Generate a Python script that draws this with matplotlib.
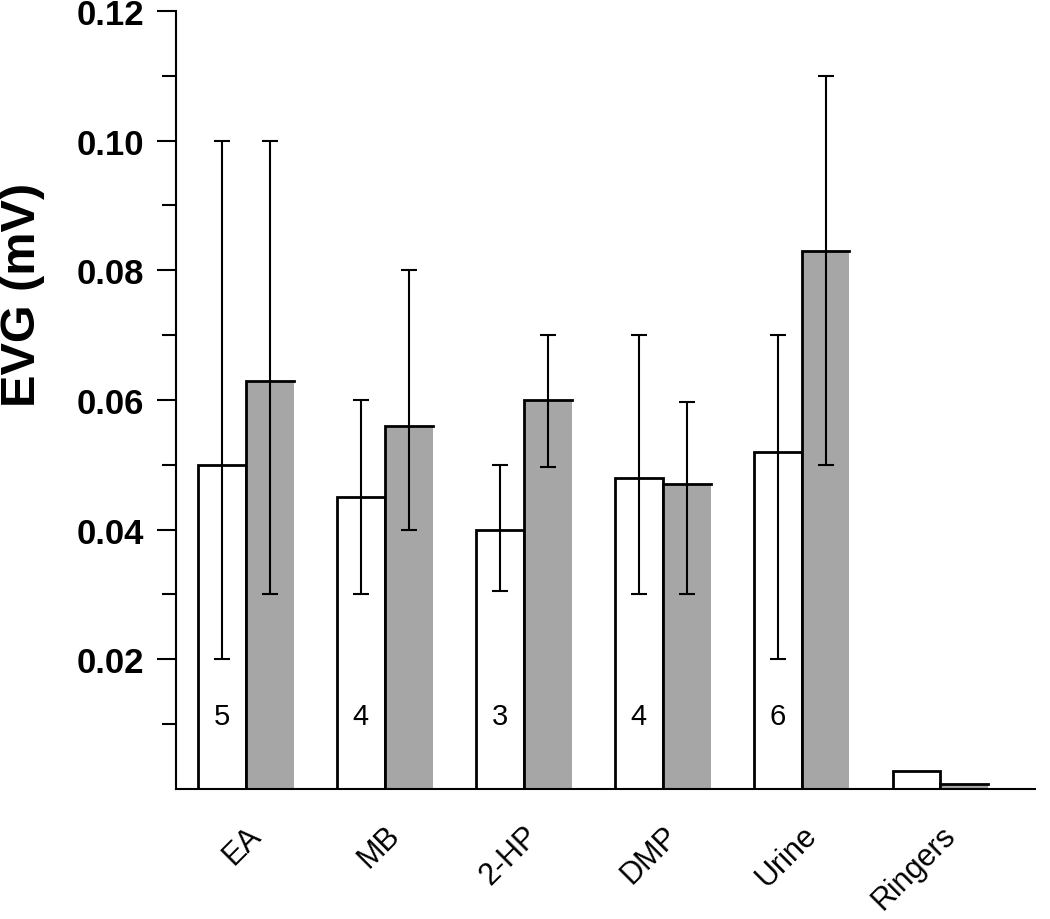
import numpy as np
import matplotlib
matplotlib.use("Agg")
import matplotlib.pyplot as plt

plt.rcParams['font.family'] = ['Liberation Sans', 'DejaVu Sans']

groups = ['EA', 'MB', '2-HP', 'DMP', 'Urine', 'Ringers']
n_counts = ['5', '4', '3', '4', '6', '']

white_vals = [0.050, 0.045, 0.040, 0.048, 0.052, 0.0027]
white_lo = [0.020, 0.030, 0.0305, 0.030, 0.020, np.nan]
white_hi = [0.100, 0.060, 0.050, 0.070, 0.070, np.nan]

gray_vals = [0.063, 0.056, 0.060, 0.047, 0.083, 0.0008]
gray_lo = [0.030, 0.040, 0.0497, 0.030, 0.050, np.nan]
gray_hi = [0.100, 0.080, 0.070, 0.0597, 0.110, np.nan]

x = np.arange(len(groups))
w = 0.345

fig = plt.figure(figsize=(10.5, 9.2), dpi=100)
ax = fig.add_axes([0.1676, 0.1413, 0.818, 0.8457])

wb = ax.bar(x - w / 2, white_vals, w, color='white', edgecolor='black', linewidth=2, zorder=2)
gb = ax.bar(x + w / 2, gray_vals, w, color='#a6a6a6', edgecolor='none', zorder=2)
# gray bars only have a left and top outline
for p in gb:
    x0, h, bw = p.get_x(), p.get_height(), p.get_width()
    ax.plot([x0, x0, x0 + bw], [0, h, h], color='black', lw=2, zorder=3,
            solid_joinstyle='miter')

def err(vals, lo, hi):
    v = np.array(vals)
    return [v - np.array(lo), np.array(hi) - v]

ax.errorbar(x - w / 2, white_vals, yerr=err(white_vals, white_lo, white_hi), fmt='none',
            ecolor='black', elinewidth=1.5, capsize=6, capthick=1.5, zorder=4)
ax.errorbar(x + w / 2, gray_vals, yerr=err(gray_vals, gray_lo, gray_hi), fmt='none',
            ecolor='black', elinewidth=1.5, capsize=6, capthick=1.5, zorder=4)

for xi, t in zip(x, n_counts):
    ax.text(xi - w / 2, 0.0113, t, ha='center', va='center', fontsize=21, zorder=5)

ax.set_xlim(-0.504, 5.68)
ax.set_ylim(0, 0.12)
ax.set_yticks([0.02, 0.04, 0.06, 0.08, 0.10, 0.12])
ax.set_yticklabels(['0.02', '0.04', '0.06', '0.08', '0.10', '0.12'], fontsize=25, fontweight='bold')
ax.set_yticks(np.arange(0.01, 0.12, 0.02), minor=True)
ax.tick_params(axis='y', which='major', length=14, width=1.5, pad=9)
ax.tick_params(axis='y', which='minor', length=10, width=1.5)
ax.set_xticks(x)
ax.set_xticklabels(groups, rotation=45, ha='right', rotation_mode='anchor', fontsize=22)
ax.tick_params(axis='x', length=0, pad=22)
ax.set_ylabel('EVG (mV)', fontsize=35, fontweight='bold')
ax.yaxis.set_label_coords(-0.152, 0.636)

for s in ['top', 'right']:
    ax.spines[s].set_visible(False)
for s in ['left', 'bottom']:
    ax.spines[s].set_linewidth(1.5)

fig.savefig('out.png', dpi=100)
